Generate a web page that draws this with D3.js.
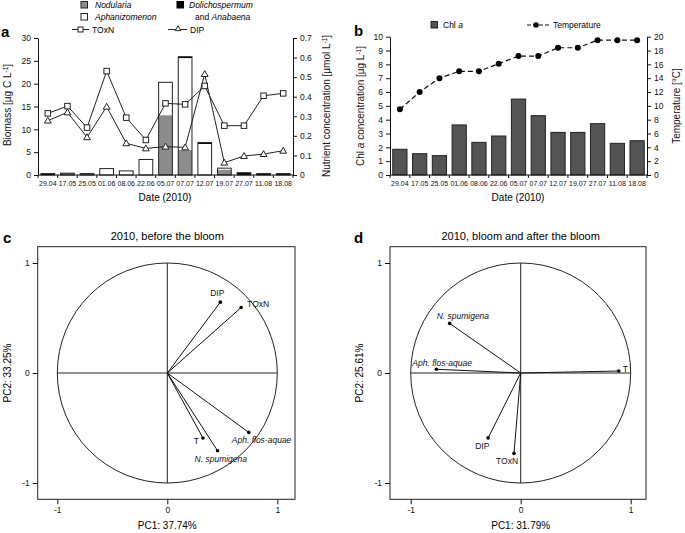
<!DOCTYPE html>
<html><head><meta charset="utf-8">
<script src="https://cdn.jsdelivr.net/npm/d3@7"></script>
<style>body{margin:0;background:#fff} svg{font-family:"Liberation Sans",Arial,sans-serif}</style>
</head><body><svg id="c" width="685" height="533"></svg>
<script>
// ---------- DATA ----------
const dates = ["29.04","17.05","25.05","01.06","08.06","22.06","05.07","07.07","12.07","19.07","27.07","11.08","18.08"];
const nodularia      = [0,   0.4, 0.3, 0,   0,   0,   13.1, 5.5,  0,   1.2, 0,   0,   0];
const aphanizomenon  = [0,   0,   0,   1.4, 0.9, 3.4, 7.2,  20.1, 6.8, 0.3, 0,   0,   0];
const dolichospermum = [0.3, 0,   0,   0,   0,   0,   0,    0.3,  0.3, 0,   0.5, 0.3, 0.3];
const toxn = [0.315,0.352,0.242,0.531,0.293,0.179,0.366,0.361,0.455,0.252,0.252,0.405,0.417];
const dip  = [0.278,0.320,0.193,0.349,0.162,0.136,0.145,0.141,0.516,0.063,0.097,0.107,0.124];
const chla = [1.86,1.54,1.40,3.62,2.36,2.82,5.49,4.29,3.08,3.08,3.71,2.29,2.48];
const temperature = [9.5,12,14,15,15,16.1,17.2,17.2,18.4,18.4,19.5,19.5,19.5];

const biomassTicks = [0,5,10,15,20,25,30];
const nutrientTicks = [0,0.1,0.2,0.3,0.4,0.5,0.6,0.7];
const chlTicks = [0,1,2,3,4,5,6,7,8,9,10];
const tempTicks = [0,2,4,6,8,10,12,14,16,18,20];
const pcaTicks = [-1,0,1];

const pcaBeforeVars = ["DIP","TOxN","T","N. spumigena","Aph. flos-aquae"];
const pcaBeforeX = [0.482,0.671,0.324,0.457,0.741];
const pcaBeforeY = [0.644,0.595,-0.591,-0.707,-0.540];
const pcaAfterVars = ["N. spumigena","Aph. flos-aquae","T","DIP","TOxN"];
const pcaAfterX = [-0.646,-0.767,0.891,-0.296,-0.061];
const pcaAfterY = [0.451,0.034,0.018,-0.590,-0.731];

// ---------- STYLE / LAYOUT ----------
const italicVars = new Set(["N. spumigena","Aph. flos-aquae"]);
const labelPosBefore = [[-3,-6,"middle"],[6,-1,"start"],[-4,6,"end"],[-23,11,"start"],[-17,11,"start"]];
const labelPosAfter  = [[-13,-4,"start"],[-24,-3.5,"start"],[4,1,"start"],[-13,11,"start"],[-18,11,"start"]];

const svg = d3.select("#c");
const C_GRAY = "#8c8c8c", C_DARK = "#545454";

function superLabel(g, x, y, rot, parts, size, anchor="middle") {
  const t = g.append("text").attr("transform", `translate(${x},${y}) rotate(${rot})`)
    .attr("text-anchor", anchor).attr("font-size", size).attr("fill","#111");
  parts.forEach(p => {
    const ts = t.append("tspan").text(p.t);
    if (p.sup) ts.attr("baseline-shift","super").attr("font-size", size*0.65);
    if (p.i) ts.attr("font-style","italic");
  });
  return t;
}

function styleAxis(g, fs) {
  g.selectAll("text").attr("font-size", fs).attr("fill","#111").attr("font-family",'"Liberation Sans",Arial,sans-serif');
  g.selectAll("line,path").attr("stroke","#111");
}

function dateAxis(g, x, y0, fs) {
  g.append("line").attr("x1", x.range()[0]).attr("x2", x.range()[1]).attr("y1", y0).attr("y2", y0).attr("stroke","#111");
  const bounds = dates.map(d => x(d)).concat([x.range()[1]]);
  g.selectAll(".bt").data(bounds).join("line").attr("x1", d=>d).attr("x2", d=>d)
    .attr("y1", y0).attr("y2", y0+3).attr("stroke","#111");
  g.selectAll(".dl").data(dates).join("text").attr("x", d=>x(d)+x.bandwidth()/2).attr("y", y0+11)
    .attr("text-anchor","middle").attr("font-size", fs).attr("fill","#111").text(d=>d);
}

// ---------- PANEL A ----------
(function(){
  const g = svg.append("g");
  const x = d3.scaleBand().domain(dates).range([38, 293]).padding(0);
  const y = d3.scaleLinear().domain([0,30]).range([175, 38]);
  const y2 = d3.scaleLinear().domain([0,0.7]).range([175, 38]);
  const bw = x.bandwidth()*0.7, off = (x.bandwidth()-bw)/2;

  const stack = dates.map((d,i) => {
    const s = [];
    let base = 0;
    [[nodularia[i], C_GRAY],[aphanizomenon[i], "#fff"],[dolichospermum[i], "#000"]].forEach(([v,c]) => {
      if (v > 0) { s.push({d, y0: base, y1: base+v, c}); base += v; }
    });
    return {d, segs: s, total: base};
  });
  stack.forEach(b => {
    b.segs.forEach(s => {
      g.append("rect").attr("x", x(b.d)+off).attr("width", bw)
        .attr("y", y(s.y1)).attr("height", y(s.y0)-y(s.y1)).attr("fill", s.c).attr("stroke","none");
    });
    g.append("rect").attr("x", x(b.d)+off).attr("width", bw)
      .attr("y", y(b.total)).attr("height", y(0)-y(b.total)).attr("fill","none").attr("stroke","#222").attr("stroke-width",1);
  });

  const line = d3.line().x((v,i)=>x(dates[i])+x.bandwidth()/2).y(v=>y2(v));
  g.append("path").attr("d", line(toxn)).attr("fill","none").attr("stroke","#222").attr("stroke-width",1);
  g.append("path").attr("d", line(dip)).attr("fill","none").attr("stroke","#222").attr("stroke-width",1);
  g.selectAll(".sq").data(toxn).join("rect").attr("x",(v,i)=>x(dates[i])+x.bandwidth()/2-2.75).attr("y",v=>y2(v)-2.75)
    .attr("width",5.5).attr("height",5.5).attr("fill","#fff").attr("stroke","#222");
  const tri = d3.symbol().type(d3.symbolTriangle).size(20);
  g.selectAll(".tr").data(dip).join("path").attr("d", tri)
    .attr("transform",(v,i)=>`translate(${x(dates[i])+x.bandwidth()/2},${y2(v)+0.5})`).attr("fill","#fff").attr("stroke","#222");

  const ya = g.append("g").attr("transform","translate(38,0)").call(d3.axisLeft(y).tickValues(biomassTicks).tickSize(4).tickSizeOuter(0));
  styleAxis(ya, 8.5);
  const yb = g.append("g").attr("transform","translate(293,0)").call(d3.axisRight(y2).tickValues(nutrientTicks).tickSize(4).tickSizeOuter(0).tickFormat(d=>d===0?"0":d.toFixed(1)));
  styleAxis(yb, 8.5);
  dateAxis(g, x, 175, 7);

  g.append("text").attr("x",165).attr("y",201).attr("text-anchor","middle").attr("font-size",10).text("Date (2010)");
  superLabel(g, 11, 105, -90, [{t:"Biomass  [µg C L"},{t:"-1",sup:true},{t:"]"}], 10);
  superLabel(g, 330, 106, -90, [{t:"Nutrient concentration [µmol L"},{t:"-1",sup:true},{t:"]"}], 10);
  g.append("text").attr("x",1).attr("y",37).attr("font-size",15).attr("font-weight","bold").text("a");

  // legend
  const L = g.append("g").attr("font-size",8.5);
  L.append("rect").attr("x",81).attr("y",1.5).attr("width",6.5).attr("height",6.5).attr("fill",C_GRAY).attr("stroke","#222");
  L.append("text").attr("x",95).attr("y",8).attr("font-style","italic").text("Nodularia");
  L.append("rect").attr("x",81).attr("y",13.5).attr("width",6.5).attr("height",6.5).attr("fill","#fff").attr("stroke","#222");
  L.append("text").attr("x",95).attr("y",20).attr("font-style","italic").text("Aphanizomenon");
  L.append("rect").attr("x",177).attr("y",1.5).attr("width",6.5).attr("height",6.5).attr("fill","#000").attr("stroke","#000");
  L.append("text").attr("x",189).attr("y",8).attr("font-style","italic").text("Dolichospermum");
  const t2 = L.append("text").attr("x",195).attr("y",20);
  t2.append("tspan").text("and ");
  t2.append("tspan").attr("font-style","italic").text("Anabaena");
  L.append("line").attr("x1",72).attr("x2",89).attr("y1",29.5).attr("y2",29.5).attr("stroke","#222");
  L.append("rect").attr("x",78).attr("y",27).attr("width",5).attr("height",5).attr("fill","#fff").attr("stroke","#222");
  L.append("text").attr("x",92).attr("y",32.5).text("TOxN");
  L.append("line").attr("x1",168).attr("x2",187).attr("y1",29.5).attr("y2",29.5).attr("stroke","#222");
  L.append("path").attr("d", d3.symbol().type(d3.symbolTriangle).size(14)).attr("transform","translate(178,29)").attr("fill","#fff").attr("stroke","#222");
  L.append("text").attr("x",190).attr("y",32.5).text("DIP");
})();

// ---------- PANEL B ----------
(function(){
  const g = svg.append("g");
  const x = d3.scaleBand().domain(dates).range([390, 647]).padding(0);
  const y = d3.scaleLinear().domain([0,10]).range([175, 36.7]);
  const y2 = d3.scaleLinear().domain([0,20]).range([175, 36.7]);
  const bw = x.bandwidth()*0.72, off = (x.bandwidth()-bw)/2;
  g.selectAll(".b").data(chla).join("rect").attr("x",(v,i)=>x(dates[i])+off).attr("width",bw)
    .attr("y",v=>y(v)).attr("height",v=>y(0)-y(v)).attr("fill",C_DARK).attr("stroke","#222");
  const line = d3.line().x((v,i)=>x(dates[i])+x.bandwidth()/2).y(v=>y2(v));
  g.append("path").attr("d", line(temperature)).attr("fill","none").attr("stroke","#111").attr("stroke-width",1.2).attr("stroke-dasharray","5,3");
  g.selectAll(".pt").data(temperature).join("circle").attr("cx",(v,i)=>x(dates[i])+x.bandwidth()/2).attr("cy",v=>y2(v)).attr("r",3).attr("fill","#000");

  const ya = g.append("g").attr("transform","translate(390,0)").call(d3.axisLeft(y).tickValues(chlTicks).tickSize(4).tickSizeOuter(0));
  styleAxis(ya, 8.5);
  const yb = g.append("g").attr("transform","translate(647,0)").call(d3.axisRight(y2).tickValues(tempTicks).tickSize(4).tickSizeOuter(0));
  styleAxis(yb, 8.5);
  dateAxis(g, x, 175, 7);

  g.append("text").attr("x",518).attr("y",201).attr("text-anchor","middle").attr("font-size",10).text("Date (2010)");
  superLabel(g, 364, 106, -90, [{t:"Chl "},{t:"a",i:true},{t:" concentration  [µg L"},{t:"-1",sup:true},{t:"]"}], 10);
  superLabel(g, 680, 106, -90, [{t:"Temperature [°C]"}], 10);
  g.append("text").attr("x",354).attr("y",36).attr("font-size",15).attr("font-weight","bold").text("b");

  const L = g.append("g").attr("font-size",8.5);
  L.append("rect").attr("x",431).attr("y",21.5).attr("width",6.5).attr("height",6.5).attr("fill",C_DARK).attr("stroke","#222");
  const t = L.append("text").attr("x",443).attr("y",28);
  t.append("tspan").text("Chl ");
  t.append("tspan").attr("font-style","italic").text("a");
  L.append("line").attr("x1",527).attr("x2",549).attr("y1",25).attr("y2",25).attr("stroke","#111").attr("stroke-dasharray","4,2");
  L.append("circle").attr("cx",536).attr("cy",25).attr("r",2.8).attr("fill","#000");
  L.append("text").attr("x",553).attr("y",28).text("Temperature");
})();

// ---------- PCA PANELS ----------
function pca(opts) {
  const g = svg.append("g");
  const r = 110;
  const x = d3.scaleLinear().domain([-1,1]).range([opts.cx - r, opts.cx + r]);
  const y = d3.scaleLinear().domain([-1,1]).range([opts.cy + r, opts.cy - r]);
  g.append("rect").attr("x",opts.fx0).attr("y",246.7).attr("width",opts.fx1-opts.fx0).attr("height",499.3-246.7)
    .attr("fill","none").attr("stroke","#222").attr("stroke-width",1);
  g.append("circle").attr("cx",x(0)).attr("cy",y(0)).attr("r",x(1)-x(0)).attr("fill","none").attr("stroke","#222");
  g.append("line").attr("x1",x(-1)).attr("x2",x(1)).attr("y1",y(0)).attr("y2",y(0)).attr("stroke","#222");
  g.append("line").attr("x1",x(0)).attr("x2",x(0)).attr("y1",y(-1)).attr("y2",y(1)).attr("stroke","#222");

  opts.vars.forEach((v,i) => {
    const px = x(opts.xs[i]), py = y(opts.ys[i]);
    g.append("line").attr("x1",x(0)).attr("y1",y(0)).attr("x2",px).attr("y2",py).attr("stroke","#111").attr("stroke-width",1);
    g.append("circle").attr("cx",px).attr("cy",py).attr("r",1.8).attr("fill","#000");
    const lp = opts.pos[i];
    g.append("text").attr("x",px+lp[0]).attr("y",py+lp[1]).attr("text-anchor",lp[2]).attr("font-size",8.5)
      .attr("font-style", italicVars.has(v)?"italic":"normal").attr("fill","#111").text(v);
  });

  const ya = g.append("g").attr("transform",`translate(${opts.fx0},0)`)
    .call(d3.axisLeft(y).tickValues(pcaTicks).tickSize(5).tickFormat(d=>String(d)));
  ya.select(".domain").remove();
  styleAxis(ya, 8.5);
  const xa = g.append("g").attr("transform",`translate(0,499.3)`)
    .call(d3.axisBottom(x).tickValues(pcaTicks).tickSize(5).tickFormat(d=>String(d)));
  xa.select(".domain").remove();
  styleAxis(xa, 8.5);

  g.append("text").attr("x",opts.cx).attr("y",240).attr("text-anchor","middle").attr("font-size",11).text(opts.title);
  g.append("text").attr("x",opts.cx).attr("y",529).attr("text-anchor","middle").attr("font-size",10).text(opts.xl);
  g.append("text").attr("transform",`translate(${opts.fx0-27},373) rotate(-90)`).attr("text-anchor","middle").attr("font-size",10).text(opts.yl);
  g.append("text").attr("x",opts.lx).attr("y",243).attr("font-size",15).attr("font-weight","bold").text(opts.letter);
}

pca({cx:167.3, cy:373, fx0:37.7, fx1:295, vars:pcaBeforeVars, xs:pcaBeforeX, ys:pcaBeforeY, pos:labelPosBefore,
     title:"2010, before the bloom", xl:"PC1: 37.74%", yl:"PC2: 33.25%", letter:"c", lx:3});
pca({cx:520.7, cy:373, fx0:390, fx1:646, vars:pcaAfterVars, xs:pcaAfterX, ys:pcaAfterY, pos:labelPosAfter,
     title:"2010, bloom and after the bloom", xl:"PC1: 31.79%", yl:"PC2: 25.61%", letter:"d", lx:354});
</script></body></html>
